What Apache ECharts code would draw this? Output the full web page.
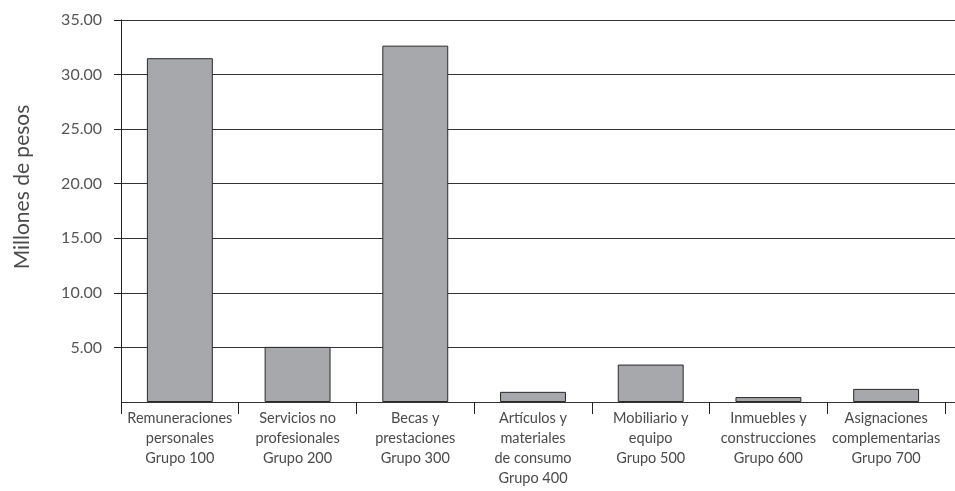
<!DOCTYPE html>
<html><head><meta charset="utf-8">
<script src="https://cdn.jsdelivr.net/npm/echarts@6/dist/echarts.min.js"></script>
<style>html,body{margin:0;padding:0;background:#fff}#c{width:955px;height:491px}</style>
</head><body><div id="c"></div>
<script>
const categories = [
  'Remuneraciones\npersonales\nGrupo 100',
  'Servicios no\nprofesionales\nGrupo 200',
  'Becas y\nprestaciones\nGrupo 300',
  'Artículos y\nmateriales\nde consumo\nGrupo 400',
  'Mobiliario y\nequipo\nGrupo 500',
  'Inmuebles y\nconstrucciones\nGrupo 600',
  'Asignaciones\ncomplementarias\nGrupo 700'
];
const values = [31.5, 5.05, 32.65, 0.93, 3.43, 0.45, 1.2];
const yMin = 0, yMax = 35, yStep = 5;
const yName = 'Millones de pesos';

const FONT = 'Lato';
const chart = echarts.init(document.getElementById('c'));
chart.setOption({
  animation: false,
  grid: [
    {left: 121, right: 0, top: 20, bottom: 89},
    {left: 121, right: 10, top: 20, bottom: 89}
  ],
  xAxis: [
    {gridIndex: 0, type: 'value', show: false, min: 0, max: 1},
    {gridIndex: 1, type: 'category', data: categories,
     axisLine: {show: false},
     axisTick: {show: true, length: 12, lineStyle: {color: '#222', width: 1},
                interval: function (i) { return i < categories.length; }},
     axisLabel: {interval: 0, color: '#4a4a4a', fontFamily: FONT, fontSize: 14.5, lineHeight: 20, margin: 6}}
  ],
  yAxis: [
    {gridIndex: 0, type: 'value', min: yMin, max: yMax, interval: yStep,
     name: yName, nameLocation: 'middle', nameGap: 88,
     nameTextStyle: {color: '#4a4a4a', fontFamily: FONT, fontSize: 21, padding: [0, 0, 0, 48]},
     axisLine: {show: true, lineStyle: {color: '#222', width: 1}},
     axisTick: {show: true, length: 7, lineStyle: {color: '#222'}},
     axisLabel: {showMinLabel: false, color: '#555', fontFamily: FONT, fontSize: 16, margin: 19,
                 formatter: v => v.toFixed(2)},
     splitLine: {show: true, lineStyle: {color: '#333', width: 1}}},
    {gridIndex: 1, type: 'value', min: yMin, max: yMax, interval: yStep, show: false,
     splitLine: {show: false}}
  ],
  series: [{
    type: 'bar', xAxisIndex: 1, yAxisIndex: 1, data: values, barWidth: '56%',
    itemStyle: {color: '#a7a8ac', borderColor: '#2a2a2a', borderWidth: 1}
  }]
});
</script></body></html>
